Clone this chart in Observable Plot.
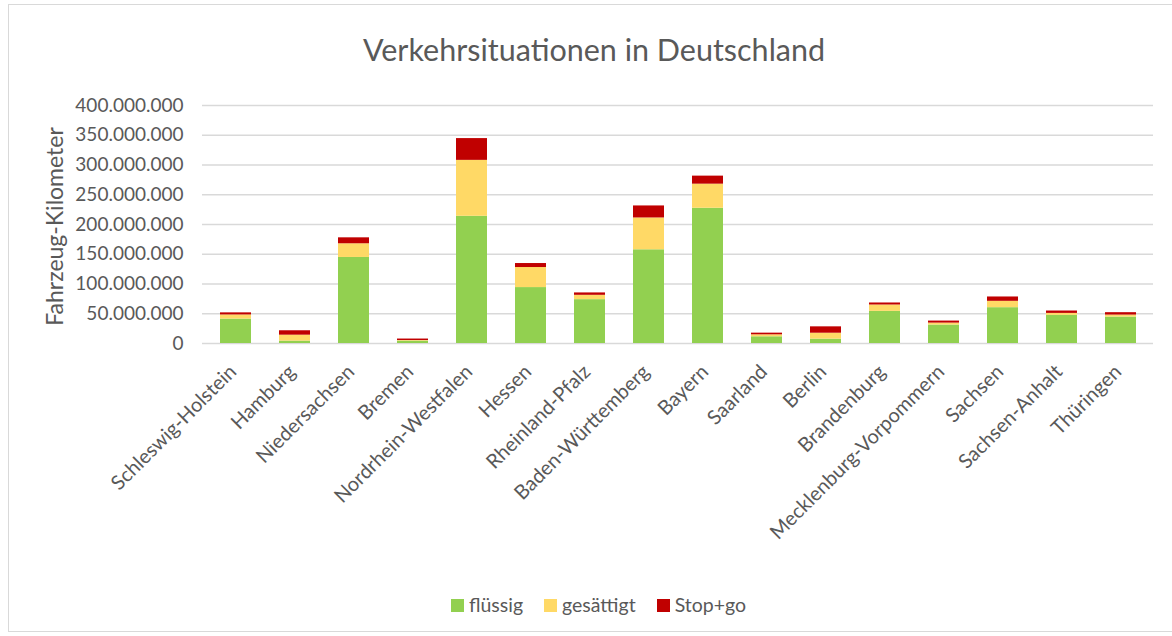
<!DOCTYPE html>
<html>
<head>
<meta charset="utf-8">
<script src="https://cdn.jsdelivr.net/npm/d3@7"></script>
<script src="https://cdn.jsdelivr.net/npm/@observablehq/plot@0.6"></script>
<style>
  html, body { margin: 0; padding: 0; background: #fff; }
  #chart { position: relative; width: 1172px; height: 636px; font-family: Lato, sans-serif; color: #595959; overflow: hidden; }
  #frame { position: absolute; left: 8px; top: 4px; width: 1170px; height: 628px; border: 1px solid #d9d9d9; box-sizing: border-box; }
  #title { position: absolute; left: 0; top: 29px; width: 1188px; text-align: center; font-size: 30.5px; line-height: 40px; }
  #plot { position: absolute; left: 0; top: 91px; }
  #legend { position: absolute; left: 451px; top: 593px; display: flex; align-items: center; font-size: 19.5px; line-height: 24px; }
  .sw { width: 13px; height: 13px; margin-right: 5px; }
  .item { display: flex; align-items: center; margin-right: 21px; }
</style>
</head>
<body>
<div id="chart">
  <div id="frame"></div>
  <div id="title">Verkehrsituationen in Deutschland</div>
  <div id="plot"></div>
  <div id="legend"></div>
</div>
<script>
const states = ["Schleswig-Holstein","Hamburg","Niedersachsen","Bremen","Nordrhein-Westfalen","Hessen","Rheinland-Pfalz","Baden-Württemberg","Bayern","Saarland","Berlin","Brandenburg","Mecklenburg-Vorpommern","Sachsen","Sachsen-Anhalt","Thüringen"];
const series = ["flüssig","gesättigt","Stop+go"];
const colors = ["#92D050","#FFD966","#C00000"];
// values in vehicle-kilometres
const fluessig  = [41.0e6, 4.0e6, 144.6e6, 4.0e6, 213.8e6, 94.0e6, 73.7e6, 157.5e6, 227.3e6, 11.3e6, 7.3e6, 54.0e6, 31.0e6, 60.2e6, 47.3e6, 44.4e6];
const gesaettigt= [7.0e6, 10.0e6, 23.0e6, 1.0e6, 94.0e6, 33.7e6, 7.3e6, 53.5e6, 40.5e6, 3.3e6, 10.0e6, 10.7e6, 3.3e6, 10.7e6, 3.3e6, 3.4e6];
const stopgo    = [3.5e6, 7.4e6, 10.0e6, 2.5e6, 36.6e6, 6.7e6, 4.0e6, 20.2e6, 13.5e6, 2.8e6, 10.7e6, 3.4e6, 3.4e6, 7.3e6, 4.0e6, 4.0e6];
const yTicks = [0,50e6,100e6,150e6,200e6,250e6,300e6,350e6,400e6];
const yLabel = "Fahrzeug-Kilometer";

const valuesBySeries = [fluessig, gesaettigt, stopgo];
const data = [];
series.forEach((s, si) => states.forEach((st, i) => data.push({state: st, series: s, value: valuesBySeries[si][i]})));

const de = d3.formatLocale({decimal: ",", thousands: ".", grouping: [3], currency: ["", " €"]});
const fmt = de.format(",d");

const plot = Plot.plot({
  width: 1172,
  height: 494,
  marginTop: 14,
  marginBottom: 242,
  marginLeft: 202,
  marginRight: 19,
  style: {fontFamily: "Lato, sans-serif", color: "#595959", background: "transparent", overflow: "visible"},
  x: {domain: states, paddingInner: 0.48, paddingOuter: 0.24, label: null},
  y: {domain: [0, 400e6], label: null},
  color: {domain: series, range: colors},
  marks: [
    Plot.gridY(yTicks, {stroke: "#d9d9d9", strokeOpacity: 1, strokeWidth: 1.5}),
    Plot.barY(data, Plot.stackY({x: "state", y: "value", fill: "series", order: series})),
    Plot.axisY(yTicks, {tickFormat: fmt, tickSize: 0, tickPadding: 19, fontSize: 19, label: null}),
    Plot.axisX({tickRotate: -45, tickSize: 0, tickPadding: 25, dx: -3, fontSize: 20, label: null}),
    Plot.text([yLabel], {frameAnchor: "left", dx: -147, dy: 2, rotate: -90, textAnchor: "middle", fontSize: 23, text: d => d, letterSpacing: 3.6, fill: "#595959"})
  ]
});
document.getElementById("plot").appendChild(plot);

const legend = document.getElementById("legend");
series.forEach((s, i) => {
  const it = document.createElement("div");
  it.className = "item";
  const sw = document.createElement("div");
  sw.className = "sw";
  sw.style.background = colors[i];
  const t = document.createElement("span");
  t.textContent = s;
  it.appendChild(sw); it.appendChild(t);
  legend.appendChild(it);
});
</script>
</body>
</html>
